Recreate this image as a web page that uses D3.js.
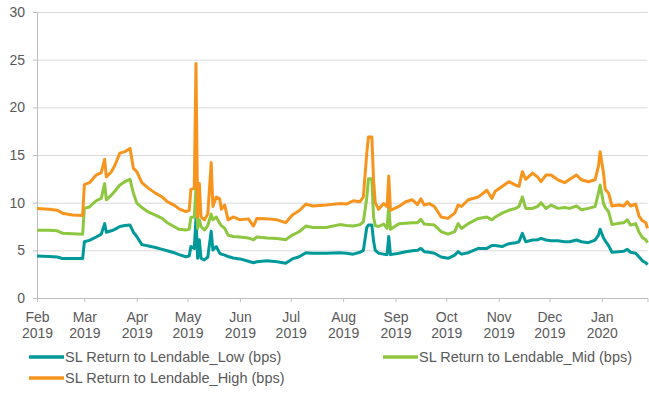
<!DOCTYPE html>
<html>
<head>
<meta charset="utf-8">
<script src="https://cdn.jsdelivr.net/npm/d3@7"></script>
<style>
  body { margin: 0; background: #fff; }
  svg text { font-family: "Liberation Sans", Arial, sans-serif; fill: #595959; }
</style>
</head>
<body>
<svg id="chart"></svg>
<script>
// dates of the readings (daily series)
const dates = [
  "2019-02-01","2019-02-08","2019-02-13","2019-02-16","2019-02-22","2019-02-28",
  "2019-03-01","2019-03-04","2019-03-08","2019-03-11","2019-03-13","2019-03-14",
  "2019-03-17","2019-03-19","2019-03-22","2019-03-25","2019-03-28","2019-03-30",
  "2019-04-01","2019-04-04","2019-04-08","2019-04-12","2019-04-16","2019-04-19",
  "2019-04-23","2019-04-26","2019-04-30","2019-05-02","2019-05-03","2019-05-05",
  "2019-05-06","2019-05-07","2019-05-08","2019-05-09","2019-05-11","2019-05-13",
  "2019-05-15","2019-05-16","2019-05-18","2019-05-20","2019-05-21","2019-05-23",
  "2019-05-25","2019-05-28","2019-06-01","2019-06-06","2019-06-09","2019-06-11",
  "2019-06-17","2019-06-23","2019-06-28","2019-07-02","2019-07-06","2019-07-10",
  "2019-07-14","2019-07-22","2019-07-30","2019-08-03","2019-08-07","2019-08-11",
  "2019-08-13","2019-08-15","2019-08-16","2019-08-18","2019-08-19","2019-08-20",
  "2019-08-22","2019-08-25","2019-08-27","2019-08-28","2019-08-29","2019-09-03",
  "2019-09-07","2019-09-11","2019-09-14","2019-09-16","2019-09-18","2019-09-21",
  "2019-09-24","2019-09-28","2019-10-02","2019-10-06","2019-10-08","2019-10-10",
  "2019-10-14","2019-10-20","2019-10-25","2019-10-28","2019-10-30","2019-11-03",
  "2019-11-07","2019-11-11","2019-11-13","2019-11-15","2019-11-17","2019-11-21",
  "2019-11-24","2019-11-26","2019-11-29","2019-12-02","2019-12-06","2019-12-10",
  "2019-12-13","2019-12-17","2019-12-20","2019-12-24","2019-12-28","2019-12-30",
  "2019-12-31","2020-01-02","2020-01-03","2020-01-05","2020-01-07","2020-01-11",
  "2020-01-14","2020-01-16","2020-01-18","2020-01-21","2020-01-23","2020-01-25",
  "2020-01-27","2020-01-28"
];

const lowVals = [
  4.4,4.35,4.3,4.15,4.15,4.15,
  5.9,6.05,6.4,6.7,7.8,6.9,
  7.05,7.2,7.5,7.6,7.65,6.9,
  6.45,5.6,5.45,5.3,5.1,4.95,
  4.75,4.55,4.33,4.4,5.4,5.2,
  8.3,4.16,6.1,4.16,4.0,4.3,
  7.0,5.03,5.4,4.7,4.6,4.5,
  4.35,4.2,4.1,3.85,3.7,3.8,
  3.9,3.8,3.65,4.1,4.33,4.75,
  4.7,4.7,4.75,4.7,4.6,4.8,
  5.0,7.4,7.65,7.65,6.0,5.0,
  4.7,4.6,4.55,6.45,4.55,4.7,
  4.85,4.96,5.0,5.2,4.86,4.8,
  4.7,4.3,4.16,4.5,4.86,4.6,
  4.75,5.2,5.2,5.5,5.5,5.4,
  5.7,5.8,5.9,6.78,5.9,6.08,
  6.1,6.26,6.08,6.0,6.0,5.9,
  5.9,6.08,5.9,5.8,6.08,6.6,
  7.2,6.3,6.0,5.5,4.8,4.86,
  4.9,5.1,4.8,4.7,4.3,3.9,
  3.7,3.5
];

const midVals = [
  7.1,7.1,7.05,6.8,6.75,6.7,
  9.4,9.55,10.2,10.45,12.0,10.3,
  10.8,11.2,11.85,12.2,12.45,11.0,
  9.95,9.5,9.0,8.7,8.35,7.9,
  7.5,7.2,7.13,7.2,8.46,8.5,
  11.5,7.3,8.2,7.5,7.13,7.6,
  8.8,8.2,8.5,7.85,7.6,7.3,
  6.6,6.45,6.4,6.3,6.1,6.4,
  6.3,6.25,6.1,6.6,6.95,7.55,
  7.4,7.4,7.7,7.6,7.55,7.7,
  8.0,10.5,12.5,12.5,8.5,7.6,
  7.5,7.75,7.3,9.75,7.2,7.8,
  7.85,7.9,7.9,8.25,7.76,7.7,
  7.65,6.96,6.7,6.96,7.8,7.3,
  7.8,8.35,8.5,8.2,8.5,8.9,
  9.2,9.4,9.6,10.6,9.4,9.4,
  9.6,10.0,9.4,9.75,9.4,9.5,
  9.4,9.65,9.25,9.4,9.58,11.0,
  11.85,9.9,9.5,9.05,7.7,7.83,
  7.9,8.2,7.65,7.8,6.9,6.35,
  6.1,5.8
];

const highVals = [
  9.4,9.3,9.2,8.9,8.7,8.65,
  11.9,12.1,12.9,13.15,14.55,12.7,
  13.25,13.9,15.2,15.35,15.7,13.6,
  13.25,12.1,11.5,11.0,10.6,10.1,
  9.75,9.35,9.05,9.2,11.4,11.5,
  24.6,8.5,12.0,8.5,8.2,8.8,
  14.2,9.6,10.6,10.4,9.3,9.75,
  8.2,8.5,8.2,8.3,7.55,8.35,
  8.3,8.2,7.9,8.7,9.15,9.85,
  9.65,9.75,9.9,9.85,10.2,10.1,
  10.6,15.2,16.9,16.9,12.4,10.0,
  9.3,9.9,9.6,12.8,9.2,9.6,
  10.1,10.3,9.8,10.4,9.75,9.9,
  9.6,8.5,8.35,8.9,9.75,9.6,
  10.3,10.6,11.3,10.45,11.2,11.7,
  12.2,11.85,11.7,13.25,12.45,13.1,
  12.7,12.2,12.9,12.9,12.4,12.1,
  12.45,12.9,12.4,12.2,12.4,13.8,
  15.35,13.1,11.4,11.0,9.65,9.75,
  9.65,10.1,9.65,9.85,8.6,8.1,
  7.9,7.3
];

const yTicks = [0, 5, 10, 15, 20, 25, 30];
const monthTicks = ["2019-02-01","2019-03-01","2019-04-01","2019-05-01","2019-06-01",
  "2019-07-01","2019-08-01","2019-09-01","2019-10-01","2019-11-01","2019-12-01","2020-01-01"];

const seriesNames = [
  "SL Return to Lendable_Low (bps)",
  "SL Return to Lendable_Mid (bps)",
  "SL Return to Lendable_High (bps)"
];
const seriesColors = ["#00999a", "#8dc63f", "#f7941d"];

const parse = d3.timeParse("%Y-%m-%d");
const width = 649, height = 402;
const margin = { top: 12, right: 1.5, bottom: 104, left: 37 };
const innerW = width - margin.left - margin.right;
const innerH = height - margin.top - margin.bottom;

const svg = d3.select("#chart").attr("width", width).attr("height", height);
const g = svg.append("g").attr("transform", `translate(${margin.left},${margin.top})`);

const x = d3.scaleTime()
  .domain([parse(dates[0]), parse(dates[dates.length - 1])])
  .range([0, innerW]);
const y = d3.scaleLinear().domain([0, 30]).range([innerH, 0]);

// gridlines
g.append("g").selectAll("line").data(yTicks.filter(d => d > 0)).join("line")
  .attr("x1", 0).attr("x2", innerW)
  .attr("y1", d => y(d) + 0.5).attr("y2", d => y(d) + 0.5)
  .attr("stroke", "#d9d9d9").attr("stroke-width", 1);

// y axis
const yAxis = g.append("g")
  .call(d3.axisLeft(y).tickValues(yTicks).tickSize(4).tickPadding(8));
yAxis.select(".domain").attr("stroke", "#bfbfbf");
yAxis.selectAll(".tick line").attr("stroke", "#bfbfbf");
yAxis.selectAll("text").style("font-size", "14px").attr("fill", "#595959");

// x axis
const xAxis = g.append("g").attr("transform", `translate(0,${innerH})`)
  .call(d3.axisBottom(x).tickValues(monthTicks.map(parse)).tickSize(4).tickFormat(""));
xAxis.select(".domain").attr("stroke", "#bfbfbf");
xAxis.selectAll(".tick line").attr("stroke", "#bfbfbf");
const fmtM = d3.timeFormat("%b"), fmtY = d3.timeFormat("%Y");
xAxis.selectAll(".tick").each(function(d) {
  const t = d3.select(this).append("text")
    .attr("text-anchor", "middle")
    .style("font-size", "14px")
    .attr("fill", "#595959");
  t.append("tspan").attr("x", 0).attr("y", 24).text(fmtM(d));
  t.append("tspan").attr("x", 0).attr("y", 39.5).text(fmtY(d));
});

// lines
const allVals = [lowVals, midVals, highVals];
const line = d3.line()
  .x((d, i) => x(parse(dates[i])))
  .y(d => y(d));
allVals.forEach((vals, k) => {
  g.append("path")
    .datum(vals)
    .attr("fill", "none")
    .attr("stroke", seriesColors[k])
    .attr("stroke-width", 3)
    .attr("stroke-linejoin", "round")
    .attr("d", line);
});

// legend
const legendPos = [[29, 357], [383, 357], [29, 378]];
const legend = svg.append("g");
seriesNames.forEach((name, k) => {
  const [lx, ly] = legendPos[k];
  legend.append("line")
    .attr("x1", lx).attr("x2", lx + 35)
    .attr("y1", ly).attr("y2", ly)
    .attr("stroke", seriesColors[k]).attr("stroke-width", 3.5);
  legend.append("text")
    .attr("x", lx + 36).attr("y", ly + 5)
    .style("font-size", "14.5px")
    .text(name);
});
</script>
</body>
</html>
